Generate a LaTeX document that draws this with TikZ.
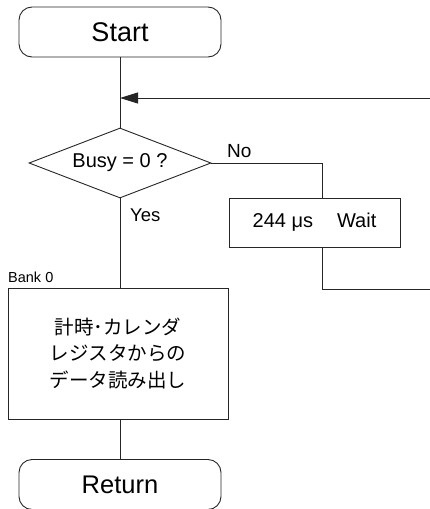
\documentclass[tikz,border=0pt]{standalone}
\usepackage{fontspec}
\setmainfont{Liberation Sans}
\newfontfamily\jp{Noto Sans CJK JP}
\usetikzlibrary{arrows.meta,shapes.geometric}
\begin{document}
\begin{tikzpicture}[x=1pt,y=-1pt,
  line/.style={draw=black!85,line width=0.9pt},
  term/.style={line,rounded corners=13pt,minimum width=202pt,minimum height=50pt,inner sep=0pt},
  procbox/.style={line,minimum width=171pt,minimum height=49pt,inner sep=0pt,font=\fontsize{20}{24}\selectfont},
  decide/.style={line,diamond,aspect=2.6,minimum width=182pt,minimum height=70pt,inner sep=0pt,font=\fontsize{20}{24}\selectfont},
  lbl/.style={inner sep=0pt,anchor=base west}]
\useasboundingbox (0,0) rectangle (430,509);
\node[term,font=\fontsize{27}{30}\selectfont] (start) at (120,32) {Start};
\node[decide] (busy) at (120,163) {Busy = 0 ?};
\node[procbox] (wait) at (314.5,222.5) {244 μs\hspace{1.2em}Wait};
\node[line,minimum width=220pt,minimum height=131pt,inner sep=0pt,align=center,
  font=\jp\fontsize{19.5}{26.5}\selectfont] (read) at (118,353.5) {計時･カレンダ\\レジスタからの\\データ読み出し};
\node[term,font=\fontsize{25.5}{30}\selectfont] (ret) at (120,484.5) {Return};
\coordinate (join) at (120,98);
\coordinate (loopin) at (431,98);
\coordinate (corner1) at (322,163);
\coordinate (corner2) at (322,289);
\coordinate (loopout) at (431,289);
\node[lbl,font=\fontsize{19}{22}\selectfont] (no) at (227,157) {No};
\node[lbl,font=\fontsize{18.5}{22}\selectfont] (yes) at (130,221) {Yes};
\node[lbl,font=\fontsize{14.5}{16}\selectfont] (bank) at (8,282) {Bank 0};
\draw[line] (start.south) -- (busy.north);
\draw[line,-{Triangle[length=18pt,width=11pt]}] (loopin) -- (join);
\draw[line] (busy.east) -- (corner1) -- (corner1 |- wait.north);
\draw[line] (corner2 |- wait.south) -- (corner2) -- (loopout);
\draw[line] (busy.south) -- (busy.south |- read.north);
\draw[line] (read.south -| ret.north) -- (ret.north);
\end{tikzpicture}
\end{document}
